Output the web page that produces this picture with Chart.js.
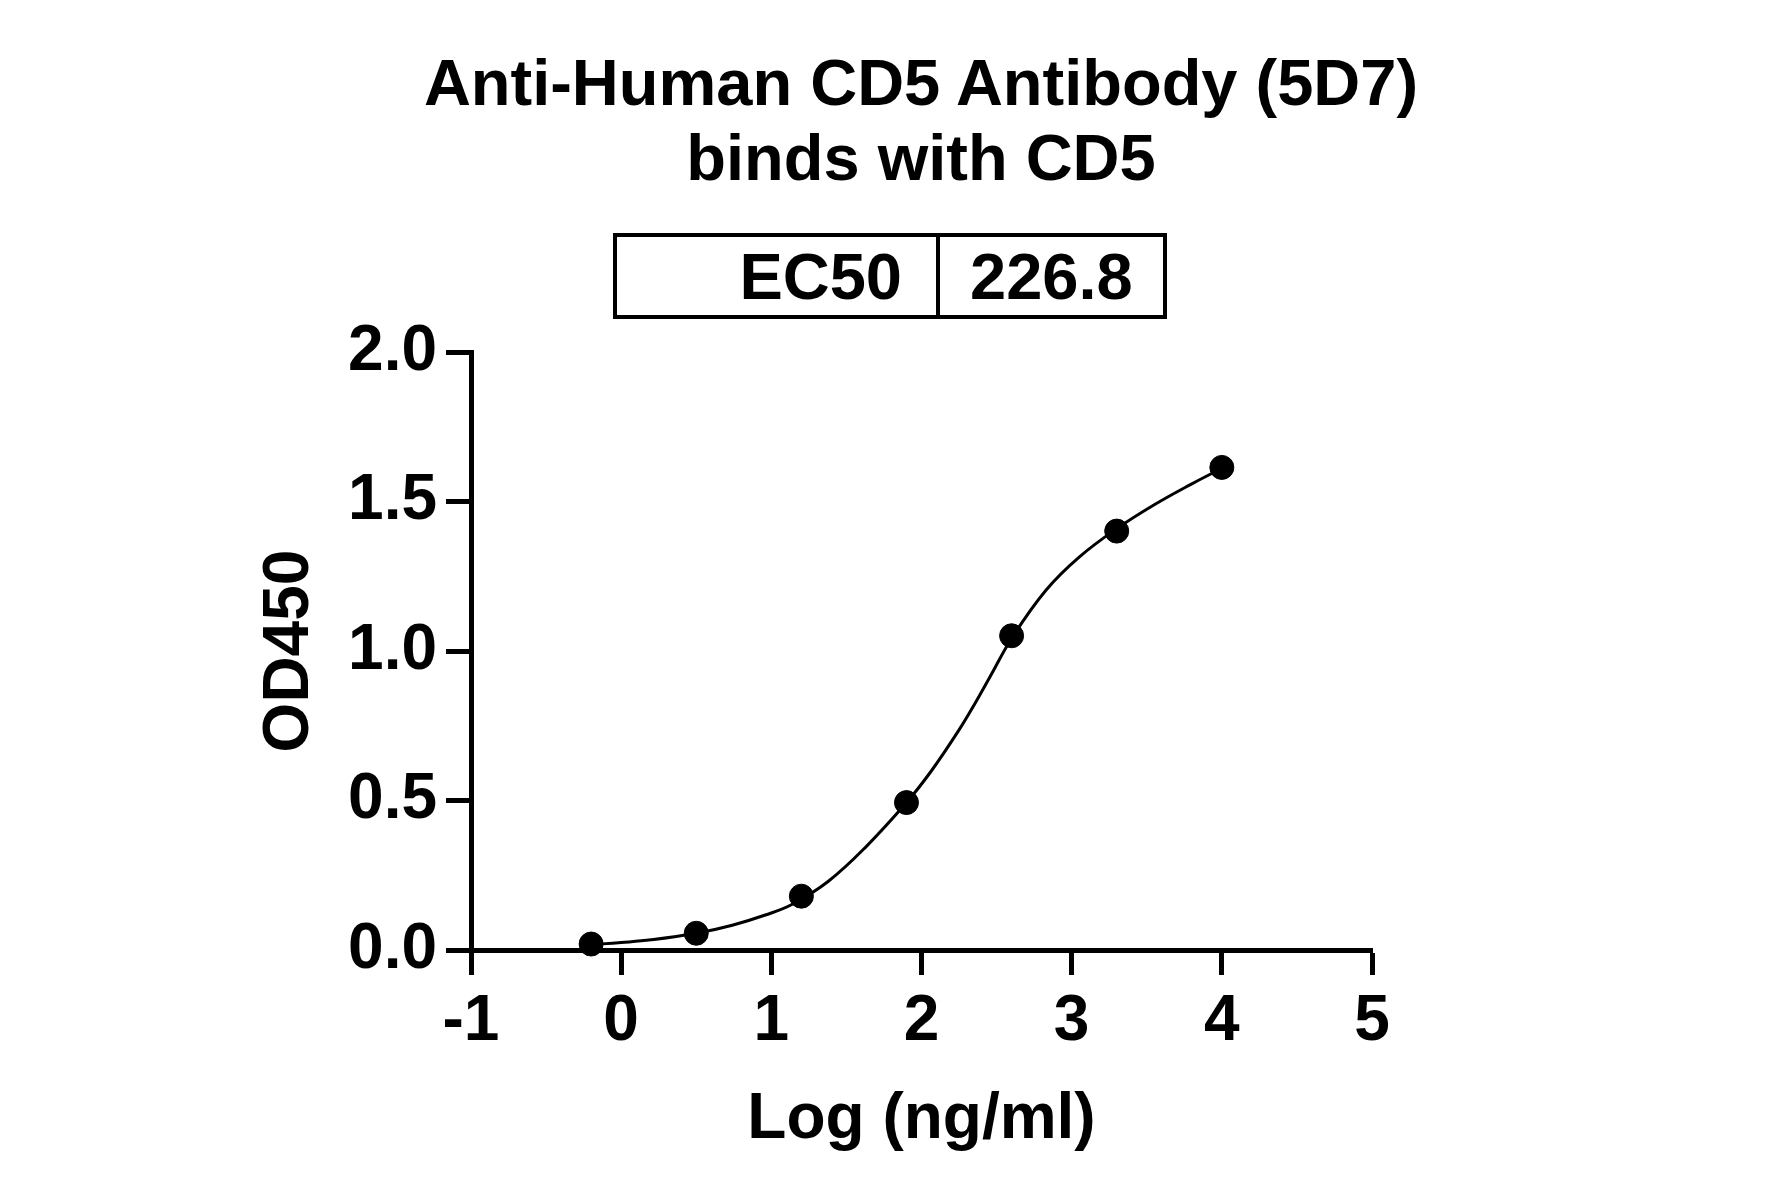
<!DOCTYPE html>
<html>
<head>
<meta charset="utf-8">
<style>
  body { margin: 0; background: #fff; }
  #wrap { position: relative; width: 1781px; height: 1197px; font-family: "Liberation Sans", Arial, sans-serif; }
  #chart { position: absolute; left: 0; top: 0; }
  #titulo { position: absolute; left: 371px; top: 45px; width: 1100px; text-align: center; font-size: 65px; line-height: 75px; font-weight: bold; color: #000; }
  #ec50 { position: absolute; left: 613px; top: 233px; width: 554px; height: 86px; border-collapse: collapse; font-size: 65px; font-weight: bold; }
  #ec50 td { border: 4px solid #000; padding: 0; vertical-align: middle; line-height: 1; }
</style>
</head>
<body>
<div id="wrap">
  <canvas id="chart" width="1781" height="1197"></canvas>
  <div id="titulo">Anti-Human CD5 Antibody (5D7)<br>binds with CD5</div>
  <table id="ec50">
    <tr>
      <td style="width: 285px; text-align: right; padding-right: 34px;">EC50</td>
      <td style="text-align: left; padding-left: 30px;">226.8</td>
    </tr>
  </table>
</div>

<script src="https://cdn.jsdelivr.net/npm/chart.js"></script>
<script>
  // pontos medidos: log(ng/ml) x OD450
  const logConc = [-0.2, 0.5, 1.2, 1.9, 2.6, 3.3, 4.0];
  const od450 = [0.02, 0.056, 0.18, 0.493, 1.051, 1.401, 1.614];

  // curva ajustada
  const curvaX = [-0.2, 0.0, 0.2, 0.5, 0.74, 0.96, 1.14, 1.38, 1.63, 1.9, 2.07, 2.25, 2.36, 2.45, 2.61, 2.83, 3.05, 3.3, 3.55, 3.8, 4.0];
  const curvaY = [0.018, 0.025, 0.034, 0.056, 0.083, 0.117, 0.153, 0.23, 0.345, 0.493, 0.602, 0.736, 0.828, 0.908, 1.05, 1.204, 1.314, 1.409, 1.489, 1.559, 1.611];

  const xTicks = [-1, 0, 1, 2, 3, 4, 5];
  const yTicks = [0, 0.5, 1.0, 1.5, 2.0];
  const xLabels = ['-1', '0', '1', '2', '3', '4', '5'];
  const yLabels = ['0.0', '0.5', '1.0', '1.5', '2.0'];

  const fonte = { family: '"Liberation Sans", Arial, sans-serif', size: 64, weight: 'bold' };

  const ctx = document.getElementById('chart').getContext('2d');
  window.grafico = new Chart(ctx, {
    type: 'scatter',
    data: {
      datasets: [{
        type: 'line',
        data: curvaX.map((x, k) => ({ x: x, y: curvaY[k] })),
        borderColor: '#000',
        borderWidth: 3,
        pointRadius: 0,
        fill: false,
        tension: 0.4,
        clip: false
      }, {
        data: logConc.map((x, k) => ({ x: x, y: od450[k] })),
        backgroundColor: '#000',
        borderColor: '#000',
        pointRadius: 12,
        pointHoverRadius: 12,
        clip: false
      }]
    },
    options: {
      responsive: false,
      animation: false,
      events: [],
      layout: { padding: { top: 352, right: 409, bottom: 0, left: 0 } },
      plugins: { legend: { display: false }, tooltip: { enabled: false }, title: { display: false } },
      scales: {
        x: {
          type: 'linear',
          min: -1,
          max: 5,
          afterBuildTicks: s => { s.ticks = xTicks.map(v => ({ value: v })); },
          afterFit: s => { s.height = 247; },
          grid: { drawOnChartArea: false, drawTicks: true, tickLength: 25, tickWidth: 5, tickColor: '#000', color: '#000' },
          border: { display: true, width: 5, color: '#000' },
          ticks: {
            color: '#000',
            font: fonte,
            padding: 9,
            maxRotation: 0,
            autoSkip: false,
            callback: v => xLabels[xTicks.indexOf(v)]
          },
          title: { display: true, text: 'Log (ng/ml)', color: '#000', font: fonte, padding: { top: 0, bottom: 38 } }
        },
        y: {
          type: 'linear',
          min: 0,
          max: 2,
          afterBuildTicks: s => { s.ticks = yTicks.map(v => ({ value: v })); },
          afterFit: s => { s.width = 471; },
          grid: { drawOnChartArea: false, drawTicks: true, tickLength: 25, tickWidth: 5, tickColor: '#000', color: '#000' },
          border: { display: true, width: 5, color: '#000' },
          ticks: {
            color: '#000',
            font: fonte,
            padding: 9,
            autoSkip: false,
            callback: v => yLabels[yTicks.indexOf(v)]
          },
          title: { display: true, text: 'OD450', color: '#000', font: fonte, padding: { top: 252, bottom: 0 } }
        }
      }
    }
  });
</script>
</body>
</html>
